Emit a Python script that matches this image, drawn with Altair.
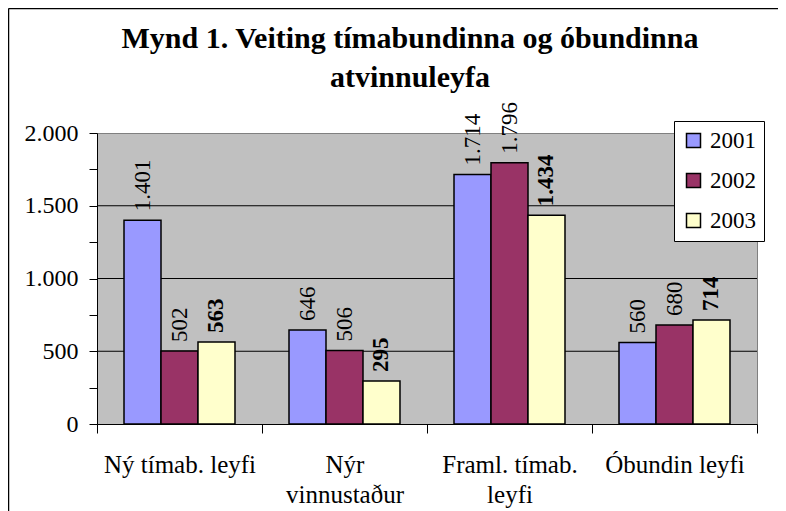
import altair as alt
import pandas as pd

# ---- data ----
categories = ["Ný tímab. leyfi", "Nýr\nvinnustaður", "Framl. tímab.\nleyfi", "Óbundin leyfi"]
years = ["2001", "2002", "2003"]
values_2001 = [1401, 646, 1714, 560]
values_2002 = [502, 506, 1796, 680]
values_2003 = [563, 295, 1434, 714]
colors = ["#9999FF", "#993366", "#FFFFCC"]
y_ticks = [0, 250, 500, 750, 1000, 1250, 1500, 1750, 2000]
grid_values = [500, 1000, 1500]
title_lines = ["Mynd 1. Veiting tímabundinna og óbundinna", "atvinnuleyfa"]

rows = []
for year, vals in zip(years, [values_2001, values_2002, values_2003]):
    for c, v in zip(categories, vals):
        rows.append({"cat": c, "year": year, "value": v})
df = pd.DataFrame(rows)

FONT = "Liberation Serif"

x_axis = alt.Axis(
    title=None,
    labelExpr="split(datum.label, '\\n')",
    labelAngle=0,
    labelFont=FONT,
    labelFontSize=25,
    labelColor="black",
    labelLineHeight=30,
    labelPadding=19,
    labelLimit=0,
    tickBand="extent",
    tickSize=9,
    tickColor="black",
    domainColor="black",
    domainWidth=1,
    grid=False,
)
y_axis = alt.Axis(
    title=None,
    values=y_ticks,
    labelExpr="datum.value % 500 == 0 ? replace(format(datum.value, ','), ',', '.') : ''",
    grid=False,
    tickSize=8,
    tickColor="black",
    domainColor="black",
    domainWidth=1,
    labelPadding=11,
    labelFont=FONT,
    labelFontSize=24,
    labelColor="black",
)
x_scale = alt.Scale(paddingInner=0, paddingOuter=0)
y_scale = alt.Scale(domain=[0, 2000], nice=False)
xoff_enc = alt.XOffset("year:N", sort=years, scale=alt.Scale(paddingInner=0, paddingOuter=0.73))

grid = alt.Chart(pd.DataFrame({"g": grid_values})).mark_rule(
    color="black", strokeWidth=1
).encode(y=alt.Y("g:Q", scale=y_scale, axis=y_axis))

bars = alt.Chart(df).mark_bar(stroke="black", strokeWidth=1.5, opacity=1).encode(
    x=alt.X("cat:N", sort=categories, scale=x_scale, axis=x_axis),
    xOffset=xoff_enc,
    y=alt.Y("value:Q", scale=y_scale, axis=y_axis),
    color=alt.Color(
        "year:N",
        scale=alt.Scale(domain=years, range=colors),
        legend=alt.Legend(
            title=None,
            orient="none",
            legendX=577,
            legendY=-12,
            fillColor="white",
            strokeColor="black",
            padding=8,
            rowPadding=16,
            symbolType="square",
            symbolSize=196,
            symbolStrokeColor="black",
            symbolStrokeWidth=1.5,
            symbolOpacity=1,
            labelFont=FONT,
            labelFontSize=23,
            labelColor="black",
            labelOffset=5,
            labelLimit=0,
        ),
    ),
)

label_base = alt.Chart(df).transform_calculate(
    label="replace(format(datum.value, ','), ',', '.')"
)
label_enc = dict(
    x=alt.X("cat:N", sort=categories, scale=x_scale, axis=x_axis),
    xOffset=xoff_enc,
    y=alt.Y("value:Q", scale=y_scale, axis=y_axis),
    text="label:N",
)
labels_normal = label_base.transform_filter("datum.year != '2003'").mark_text(
    angle=270, align="left", baseline="middle", dx=9, font=FONT, fontSize=23, color="black"
).encode(**label_enc)
labels_bold = label_base.transform_filter("datum.year == '2003'").mark_text(
    angle=270, align="left", baseline="middle", dx=9, font=FONT, fontSize=23,
    fontWeight="bold", color="black"
).encode(**label_enc)

# outer chart border (top and left edges are the only ones inside the picture)
frame_top = alt.Chart(pd.DataFrame({"k": [0]})).mark_rule(
    color="black", strokeWidth=1.5
).encode(x=alt.value(-88.5), x2=alt.value(700), y=alt.value(-124.5))
frame_left = alt.Chart(pd.DataFrame({"k": [0]})).mark_rule(
    color="black", strokeWidth=1.5
).encode(x=alt.value(-88.5), y=alt.value(-124.5), y2=alt.value(400))

chart = alt.layer(grid, bars, labels_normal, labels_bold, frame_top, frame_left).properties(
    width=660,
    height=291,
    title=alt.TitleParams(
        text=title_lines,
        font=FONT,
        fontSize=30,
        fontWeight="bold",
        color="black",
        anchor="middle",
        frame="group",
        dx=-17,
        offset=-85,
        lineHeight=39,
    ),
    autosize=alt.AutoSizeParams(type="none"),
    padding={"left": 89, "top": 125, "right": 21, "bottom": 87},
    background="white",
).configure(
    font=FONT
).configure_axis(
    labelFont=FONT
).configure_legend(
    labelFont=FONT
).configure_view(
    fill="#C0C0C0", stroke="#808080", strokeWidth=1
)

chart.save("out.html", embed_options={"renderer": "svg", "actions": False})
